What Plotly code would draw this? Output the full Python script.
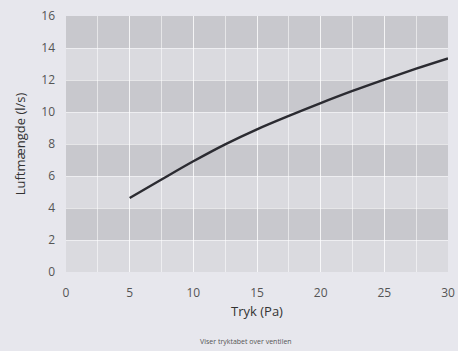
import plotly.graph_objects as go

pressure = [5, 7.5, 10, 12.5, 15, 17.5, 20, 22.5, 25, 27.5, 30]
airflow = [4.62, 5.78, 6.92, 7.98, 8.92, 9.76, 10.56, 11.32, 12.03, 12.71, 13.35]
band_starts = [2, 6, 10, 14]
x_ticks = [0, 5, 10, 15, 20, 25, 30]
y_ticks = [0, 2, 4, 6, 8, 10, 12, 14, 16]

fig = go.Figure()
fig.add_trace(go.Scatter(x=pressure, y=airflow, mode="lines",
                         line=dict(color="#2b2b31", width=2.4, shape="spline"),
                         showlegend=False, cliponaxis=False))

for b in band_starts:
    fig.add_shape(type="rect", xref="paper", yref="y", x0=0, x1=1, y0=b, y1=b + 2,
                  fillcolor="#c8c8cd", line_width=0, layer="below")

fig.update_layout(
    width=458, height=351,
    margin=dict(l=66, r=10, t=16, b=79, autoexpand=False),
    paper_bgcolor="#e7e7ed",
    plot_bgcolor="#dadadf",
    font=dict(family="Open Sans", color="#444"),
    xaxis=dict(range=[0, 30], tickvals=x_ticks, showgrid=True, automargin=False,
               gridcolor="rgba(255,255,255,0.55)", gridwidth=1,
               minor=dict(dtick=2.5, showgrid=True, gridcolor="rgba(255,255,255,0.55)"),
               zeroline=False, showline=False, ticks="",
               tickfont=dict(size=12, color="#555"), ticklabelstandoff=12,
               title=dict(text="Tryk (Pa)", font=dict(size=13, color="#333"), standoff=6)),
    yaxis=dict(range=[0, 16], tickvals=y_ticks, showgrid=True, automargin=False,
               gridcolor="rgba(255,255,255,0.55)", gridwidth=1,
               zeroline=False, showline=False, ticks="",
               tickfont=dict(size=12, color="#555"), ticklabelstandoff=10,
               title=dict(text="Luftmængde (l/s)", font=dict(size=13, color="#333"), standoff=12)),
)
fig.add_annotation(text="Viser tryktabet over ventilen", xref="paper", yref="paper",
                   x=0.47, y=-0.27, showarrow=False, yanchor="middle",
                   font=dict(size=7, color="#555"))

fig.write_html("out.html")
